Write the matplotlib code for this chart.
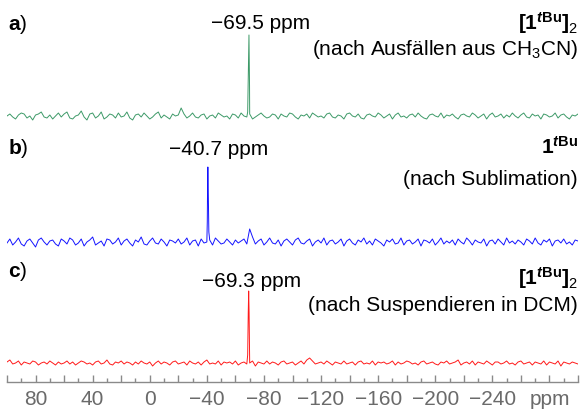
import numpy as np
import matplotlib
matplotlib.use("Agg")
import matplotlib.pyplot as plt

plt.rcParams['font.family'] = ['Liberation Sans', 'DejaVu Sans']
plt.rcParams['mathtext.fontset'] = 'custom'
plt.rcParams['mathtext.rm'] = 'Liberation Sans'
plt.rcParams['mathtext.it'] = 'Liberation Sans:italic'
plt.rcParams['mathtext.bf'] = 'Liberation Sans:bold'
plt.rcParams['mathtext.bfit'] = 'Liberation Sans:bold:italic'

# chemical shift grid (ppm), 100 ... -300
ppm = np.arange(100, -301, -2)

# baseline noise (arbitrary units)
noise_a = [0, 2, -1, -3, 1, 3, 2, -2, 0, -4, 1, 2, 4, -1, -2, 1, -3, 0, 3, -1,
           2, 4, -2, -3, 0, 1, 5, -1, -4, 2, 3, -2, 0, 4, -3, -1, 2, 1, -2, 3,
           -1, 0, 4, -2, -4, 1, 2, -1, 3, 0, -3, -1, 2, 4, -2, 1, -1, -3, 2, 0,
           1, 8, 2, -2, 0, 3, -1, -2, 1, 2, -3, 0, 1, -2, 3, 1, -1, 0, -3, 2,
           1, -2, 3, 0, -1, 2, -3, -1, 1, 3, 0, -2, -1, 2, 1, -3, 2, 0, -1, 3,
           2, -1, -3, 1, 0, 2, -2, 3, 1, -1, 0, -2, 2, 3, -1, -2, 1, 0, -3, 2,
           3, 0, -1, 2, -2, -3, 1, 2, 0, -1, 3, 1, -2, 0, 2, -3, 1, 3, -1, 0,
           -2, 1, 2, -1, 3, 0, -2, -3, 1, 2, 0, -1, 3, -2, 1, 0, 2, -1, -3, 1,
           2, 0, -1, 3, 1, -2, 0, 2, -3, 1, 3, -1, 0, 2, -2, 1, -1, 3, 0, -2,
           1, 3, -1, -2, 2, 0, 1, -3, 2, 1, -1, 0, 3, -2, 1, 2, -1, -3, 1, 0,
           2]
noise_b = [-1, 3, -3, 0, 4, -2, -4, 1, 3, -1, -5, 2, 4, 0, -3, 1, 2, -2, -4, 3,
           1, -2, 4, 2, -3, -1, 3, -4, 0, 2, 5, -3, -1, 1, -4, 3, 2, -2, 0, 4,
           -3, 1, 3, -1, -4, 2, 0, 5, -2, -3, 1, 4, -1, -2, 3, 0, -4, 2, 1, -1,
           3, -2, 0, 4, -3, 1, 2, -4, 3, -1, 0, 2, -3, 4, 1, -2, -1, 3, 0, -3,
           2, -1, 1, 3, -2, 13, 5, -2, 1, 3, -3, 0, 4, -1, -2, 2, -4, 1, 3, 0,
           -3, 2, 4, -1, -2, 1, 3, -4, 0, 2, -1, 4, -3, 1, 2, -2, 0, 3, -4, 1,
           3, -1, -3, 2, 0, 4, -2, 1, -3, 3, 1, -1, -4, 2, 0, 3, -2, -1, 4, -3,
           1, 2, -2, 0, 3, -4, 2, 1, -1, 3, -3, 0, 4, -2, 1, -1, 2, -3, 3, 0,
           -2, 4, 1, -3, 2, 0, -1, 3, -4, 1, 2, -2, 3, 0, -3, 4, -1, 1, -2, 2,
           0, -3, 3, 1, -2, 4, -1, -3, 2, 0, 3, -4, 1, 2, -1, 3, -2, 0, -3, 2,
           1]
noise_c = [1, 3, -1, 0, 2, -2, 1, 0, -1, 2, 1, -2, 0, 1, -1, 2, 0, -2, 1, -1,
           0, 2, -1, 1, -2, 0, 2, 1, -1, 0, -2, 1, 2, -1, 0, 3, -1, -2, 1, 0,
           2, -1, 1, 0, -2, 1, -1, 2, 0, -1, 1, -3, 0, 2, -1, 1, 0, -2, 1, 2,
           -1, 0, 1, -2, 2, 0, -1, 1, -2, 1, 3, -1, 0, -1, 2, -2, 1, 0, 1, -1,
           2, -2, 0, 1, -1, 0, 2, -3, 1, 0, -1, 2, -1, 1, 0, -2, 1, 2, -1, 0,
           1, -2, 0, 2, -1, 3, 5, 2, -1, 0, 1, -1, 2, 0, -2, 1, 0, -1, 2, -1,
           0, 1, -2, 1, 2, -1, 0, -1, 2, -2, 1, 0, 1, -1, 0, 2, -2, 1, -1, 0,
           2, 1, -1, 0, -2, 1, 2, -1, 0, 1, -1, -2, 1, 0, 2, -1, 0, 1, 3, -2,
           0, 1, -1, 2, -2, 1, 0, -1, 2, 0, -2, 1, 1, -1, 0, 2, -1, 0, -2, 1,
           2, -1, 0, 1, -2, 1, 0, -1, 2, -2, 1, 0, -1, 2, -3, 1, 0, -1, 1, 0,
           -1]

# signal lines
peak_a_ppm = [-68.6, -69.1, -69.5, -69.9]
peak_a_int = [4, 45, 81, 30]
peak_b_ppm = [-40.3, -40.5, -40.7, -41.0, -41.4]
peak_b_int = [20, 55, 75, 50, 10]
peak_c_ppm = [-68.6, -69.0, -69.3, -69.6, -69.9]
peak_c_int = [8, 50, 72, 50, 6]


def spectrum(noise, pk_ppm, pk_int):
    x = np.concatenate([ppm, pk_ppm])
    y = np.concatenate([noise, pk_int])
    order = np.argsort(-x)
    return x[order], y[order]


fig = plt.figure(figsize=(5.8, 4.14), dpi=100)
ax = fig.add_axes([7 / 580, 31 / 414, 571 / 580, 383 / 414])

traces = [
    (noise_a, peak_a_ppm, peak_a_int, 266, '#3d9a68'),
    (noise_b, peak_b_ppm, peak_b_int, 140, '#1414ff'),
    (noise_c, peak_c_ppm, peak_c_int, 19, '#ff1a1a'),
]
for noise, pk_x, pk_y, off, col in traces:
    x, y = spectrum(noise, pk_x, pk_y)
    ax.plot(x, y + off, color=col, lw=0.7)

fs = 15
# a)
ax.text(99.3, 353, r'$\mathbf{a}$)', fontsize=fs, va='baseline', ha='left')
ax.text(-77.5, 354, '\u221269.5 ppm', fontsize=fs, va='baseline', ha='center')
ax.text(-300, 353, r'$\mathbf{[1}^{\mathbfit{t}\mathbf{Bu}}\mathbf{]}_{2}$',
        fontsize=fs, va='baseline', ha='right')
ax.text(-300, 328, r'(nach Ausfällen aus CH$_3$CN)', fontsize=fs,
        va='baseline', ha='right')
# b)
ax.text(99.3, 229, r'$\mathbf{b}$)', fontsize=fs, va='baseline', ha='left')
ax.text(-48.4, 228, '\u221240.7 ppm', fontsize=fs, va='baseline', ha='center')
ax.text(-300, 229, r'$\mathbf{1}^{\mathbfit{t}\mathbf{Bu}}$',
        fontsize=fs, va='baseline', ha='right')
ax.text(-300, 198, '(nach Sublimation)', fontsize=fs, va='baseline', ha='right')
# c)
ax.text(99.3, 106, r'$\mathbf{c}$)', fontsize=fs, va='baseline', ha='left')
ax.text(-71.6, 96, '\u221269.3 ppm', fontsize=fs, va='baseline', ha='center')
ax.text(-300, 98, r'$\mathbf{[1}^{\mathbfit{t}\mathbf{Bu}}\mathbf{]}_{2}$',
        fontsize=fs, va='baseline', ha='right')
ax.text(-300, 72, '(nach Suspendieren in DCM)', fontsize=fs,
        va='baseline', ha='right')

ax.set_xlim(100, -300)
ax.set_ylim(0, 383)
ax.set_facecolor('none')
for s in ['top', 'left', 'right']:
    ax.spines[s].set_visible(False)
ax.spines['bottom'].set_color('#8a8a8a')
ax.spines['bottom'].set_linewidth(1.0)
ax.set_yticks([])

tick_vals = [80, 40, 0, -40, -80, -120, -160, -200, -240, -280]
tick_labs = ['80', '40', '0', '\u221240', '\u221280', '\u2212120', '\u2212160',
             '\u2212200', '\u2212240', 'ppm']
major = np.arange(100, -301, -20)
ax.set_xticks(major)
ax.set_xticklabels([tick_labs[tick_vals.index(v)] if v in tick_vals else ''
                    for v in major])
ax.set_xticks(np.arange(90, -300, -20), minor=True)
ax.tick_params(axis='x', which='major', direction='in', length=5, width=1,
               color='#8a8a8a', labelcolor='#6a6a6a', labelsize=fs, pad=5)
ax.tick_params(axis='x', which='minor', direction='in', length=3, width=1,
               color='#8a8a8a')

fig.savefig('out.png', dpi=100)
